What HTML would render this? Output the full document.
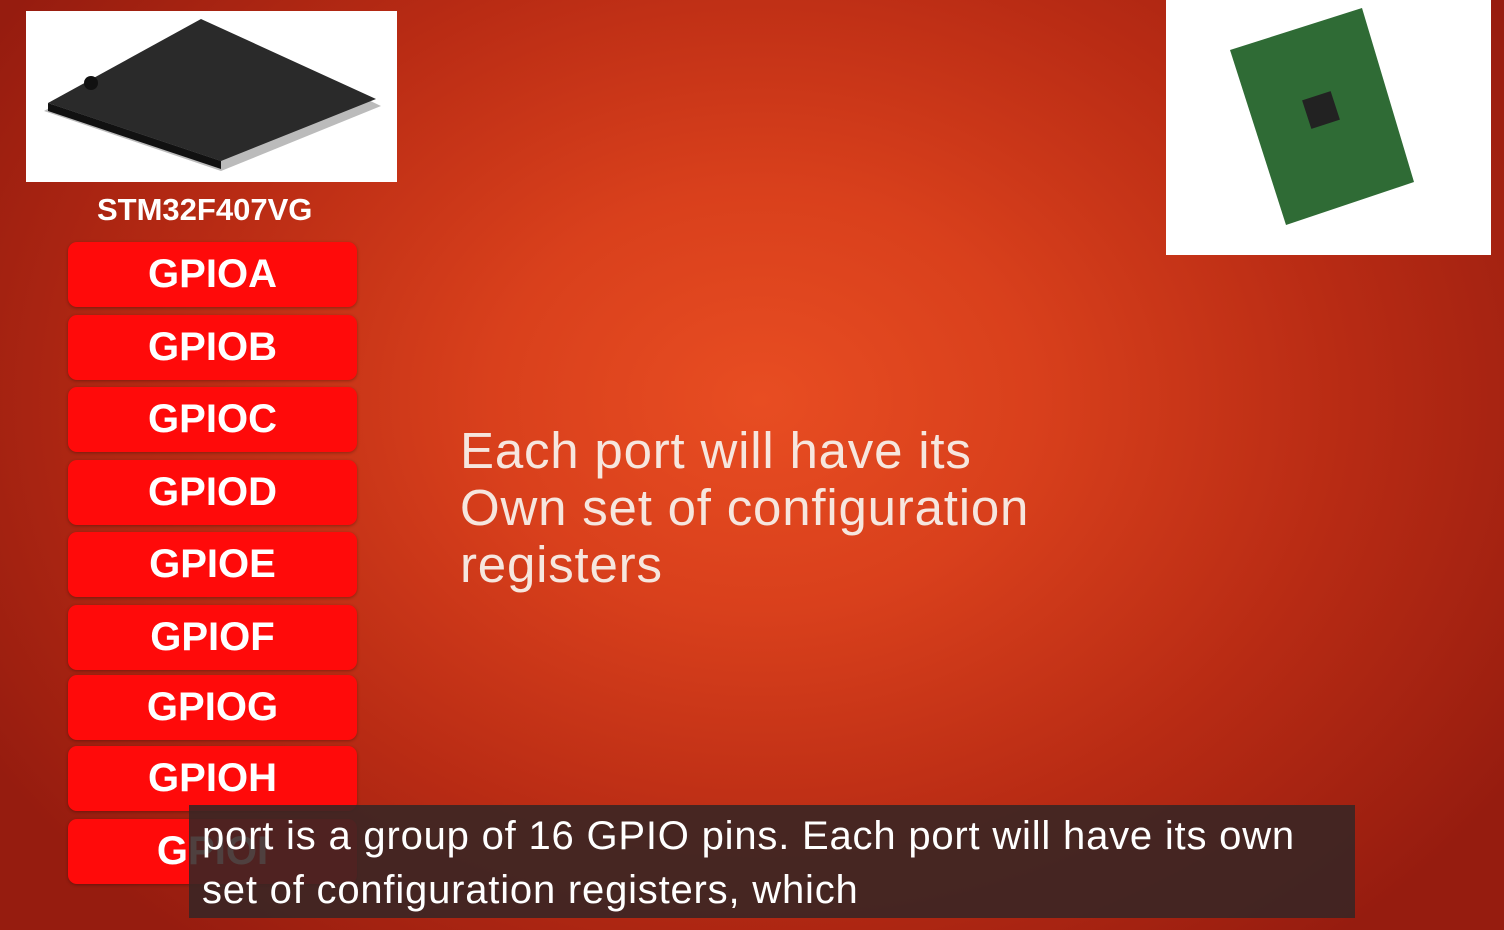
<!DOCTYPE html>
<html><head><meta charset="utf-8"><style>
*{margin:0;padding:0;box-sizing:border-box}
body{width:1504px;height:930px;overflow:hidden;position:relative;font-family:"Liberation Sans",sans-serif;
background:radial-gradient(ellipse 900px 700px at 760px 400px,#e84d22 0%,#d9401c 30%,#b82b14 65%,#961c0f 100%);}
.btn{position:absolute;left:68px;width:289px;height:65px;background:#ff0a0a;border-radius:9px;color:#fff;font-weight:bold;font-size:40px;text-align:center;line-height:65px;box-shadow:0 1px 3px rgba(0,0,0,.3)}
.main{position:absolute;left:460px;top:422px;color:#f6e6de;font-size:51px;line-height:57px;letter-spacing:0.8px}
.cap{position:absolute;left:189px;top:805px;width:1166px;height:113px;background:rgba(55,38,36,.88);color:#fff;font-size:40px;line-height:54px;padding:4px 0 0 13px;letter-spacing:0.8px}
</style></head><body>
<div style="position:absolute;left:26px;top:11px;width:371px;height:171px;background:#fff">
<svg width="371" height="171"><polygon points="18,100 175,10 355,95 195,160" fill="#bbb"/><polygon points="22,92 175,8 350,88 195,150" fill="#2a2a2a"/><polygon points="22,92 195,150 195,158 22,100" fill="#111"/><circle cx="65" cy="72" r="7" fill="#111"/></svg></div>
<div style="position:absolute;left:97px;top:192px;width:230px;color:#fff;font-weight:bold;font-size:31px">STM32F407VG</div>
<div style="position:absolute;left:1166px;top:0;width:325px;height:255px;background:#fff">
<svg width="325" height="255"><polygon points="64,50 196,8 248,182 120,225" fill="#2f6b35"/><rect x="140" y="95" width="30" height="30" fill="#222" transform="rotate(-18 155 110)"/></svg></div>
<div class="btn" style="top:242px">GPIOA</div>
<div class="btn" style="top:315px">GPIOB</div>
<div class="btn" style="top:387px">GPIOC</div>
<div class="btn" style="top:460px">GPIOD</div>
<div class="btn" style="top:532px">GPIOE</div>
<div class="btn" style="top:605px">GPIOF</div>
<div class="btn" style="top:675px">GPIOG</div>
<div class="btn" style="top:746px">GPIOH</div>
<div class="btn" style="top:819px">GPIOI</div>
<div class="main">Each port will have its<br>Own set of configuration<br>registers</div>
<div class="cap">port is a group of 16 GPIO pins. Each port will have its own<br>set of configuration registers, which</div>
</body></html>
